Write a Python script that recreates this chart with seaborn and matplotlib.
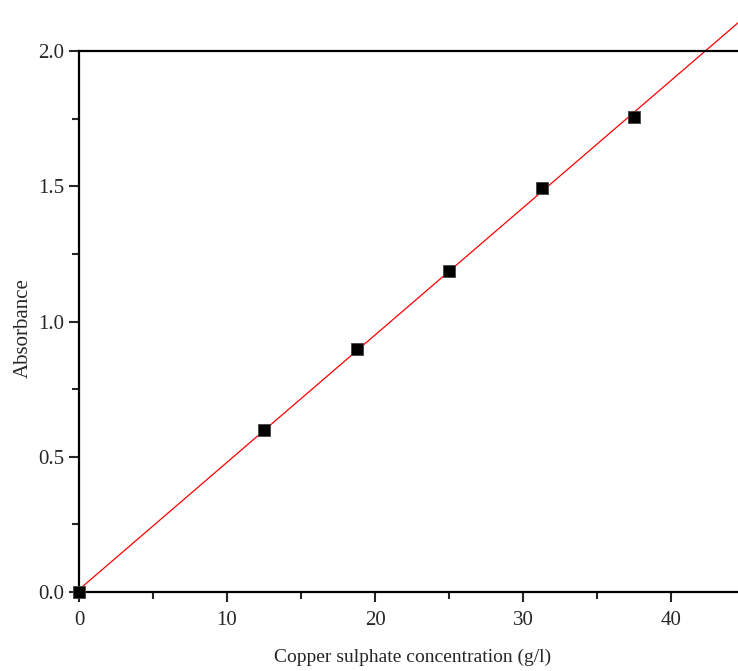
import numpy as np
import pandas as pd
import matplotlib
matplotlib.use('Agg')
import matplotlib.pyplot as plt
import seaborn as sns
from matplotlib.ticker import MultipleLocator

# calibration data
concentration = [0, 12.5, 18.75, 25, 31.25, 37.5]
absorbance = [0.0, 0.60, 0.90, 1.185, 1.495, 1.755]

x_ticks = [0, 10, 20, 30, 40]
y_ticks = [0.0, 0.5, 1.0, 1.5, 2.0]

df = pd.DataFrame({'conc': concentration, 'abs': absorbance})

sns.set_style('ticks')
plt.rcParams['font.family'] = ['Liberation Serif', 'DejaVu Serif']
plt.rcParams['xtick.direction'] = 'out'
plt.rcParams['ytick.direction'] = 'out'

fig = plt.figure(figsize=(7.38, 6.71), dpi=100)
# axes run past the right edge of the image, like the original crop
ax = fig.add_axes([79 / 738, 79 / 671, 666 / 738, 541 / 671])

# linear fit through the points
slope, intercept = np.polyfit(df['conc'], df['abs'], 1)
xfit = np.array([0, 45])
ax.plot(xfit, slope * xfit + intercept, color='red', lw=0.9, clip_on=False, zorder=2)

sns.scatterplot(data=df, x='conc', y='abs', marker='s', s=80, color='black',
                edgecolor='#444444', linewidth=0.6, ax=ax, clip_on=False, zorder=3)

ax.set_xlim(0, 45)
ax.set_ylim(0, 2.0)
ax.set_xticks(x_ticks)
ax.set_yticks(y_ticks)
ax.set_yticklabels([f'{v:.1f}' for v in y_ticks])
ax.xaxis.set_minor_locator(MultipleLocator(5))
ax.yaxis.set_minor_locator(MultipleLocator(0.25))
ax.tick_params(which='major', length=7.5, width=1.5, labelsize=15)
ax.tick_params(axis='x', which='major', pad=6)
ax.tick_params(axis='y', which='major', pad=3)
ax.tick_params(which='minor', length=5, width=1.5)

for side in ['left', 'bottom', 'top', 'right']:
    ax.spines[side].set_linewidth(1.6)
    ax.spines[side].set_color('black')

ax.set_xlabel('Copper sulphate concentration (g/l)', fontsize=14)
ax.set_ylabel('Absorbance', fontsize=15)
ax.xaxis.set_label_coords((413 - 79) / 666, -0.105)
ax.yaxis.set_label_coords(-(79 - 33) / 666, (592 - 328) / 541)

fig.savefig('out.png', dpi=100)
